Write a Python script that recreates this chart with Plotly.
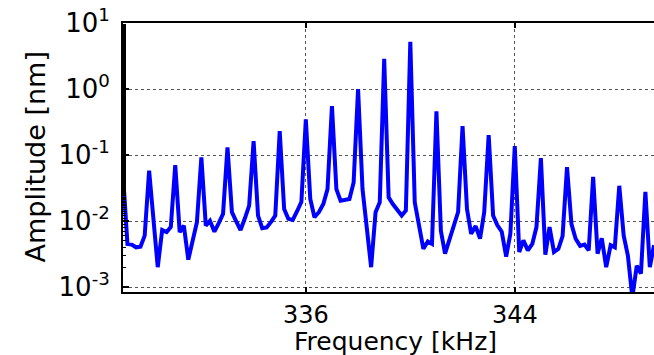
import plotly.graph_objects as go

# Frequency grid [kHz] (sampled every 1/6 kHz)
freq_khz = [
    329.00, 329.17, 329.33, 329.50, 329.67, 329.83,
    330.00, 330.17, 330.33, 330.50, 330.67, 330.83,
    331.00, 331.17, 331.33, 331.50, 331.67, 331.83,
    332.00, 332.17, 332.33, 332.50, 332.67, 332.83,
    333.00, 333.17, 333.33, 333.50, 333.67, 333.83,
    334.00, 334.17, 334.33, 334.50, 334.67, 334.83,
    335.00, 335.17, 335.33, 335.50, 335.67, 335.83,
    336.00, 336.17, 336.33, 336.50, 336.67, 336.83,
    337.00, 337.17, 337.33, 337.50, 337.67, 337.83,
    338.00, 338.17, 338.33, 338.50, 338.67, 338.83,
    339.00, 339.17, 339.33, 339.50, 339.67, 339.83,
    340.00, 340.17, 340.33, 340.50, 340.67, 340.83,
    341.00, 341.17, 341.33, 341.50, 341.67, 341.83,
    342.00, 342.17, 342.33, 342.50, 342.67, 342.83,
    343.00, 343.17, 343.33, 343.50, 343.67, 343.83,
    344.00, 344.17, 344.33, 344.50, 344.67, 344.83,
    345.00, 345.17, 345.33, 345.50, 345.67, 345.83,
    346.00, 346.17, 346.33, 346.50, 346.67, 346.83,
    347.00, 347.17, 347.33, 347.50, 347.67, 347.83,
    348.00, 348.17, 348.33, 348.50, 348.67, 348.83,
    349.00, 349.17, 349.33,
]

# Amplitude [nm]
amplitude_nm = [
    0.051, 0.0045, 0.0044, 0.0040, 0.0041, 0.0060,
    0.058, 0.011, 0.0020, 0.0073, 0.0068, 0.0081,
    0.070, 0.0068, 0.0085, 0.0026, 0.0050, 0.0096,
    0.092, 0.0085, 0.0101, 0.0069, 0.0094, 0.0128,
    0.130, 0.0136, 0.0100, 0.0073, 0.0111, 0.0171,
    0.163, 0.0121, 0.0078, 0.0080, 0.0097, 0.0121,
    0.231, 0.0152, 0.0108, 0.0104, 0.0142, 0.0196,
    0.347, 0.0216, 0.0114, 0.0136, 0.0181, 0.0305,
    0.55, 0.0305, 0.0203, 0.0208, 0.0216, 0.0385,
    1.0, 0.0305, 0.0076, 0.0020, 0.0136, 0.0192,
    2.86, 0.0229, 0.0181, 0.0147, 0.0121, 0.0144,
    5.2, 0.0192, 0.0084, 0.0038, 0.0049, 0.0045,
    0.458, 0.0071, 0.0032, 0.0054, 0.0082, 0.0137,
    0.275, 0.0152, 0.0064, 0.0084, 0.0054, 0.0137,
    0.201, 0.0121, 0.0087, 0.0069, 0.0029, 0.0064,
    0.137, 0.0034, 0.0051, 0.0036, 0.0045, 0.0081,
    0.090, 0.0031, 0.0081, 0.0034, 0.0038, 0.0059,
    0.0655, 0.0090, 0.0054, 0.0042, 0.0044, 0.0036,
    0.0467, 0.0032, 0.0055, 0.0020, 0.0043, 0.0040,
    0.0342, 0.0060, 0.0030, 0.0007, 0.0021, 0.0016,
    0.0277, 0.0020, 0.0043,
]

x_tick_vals = [336, 344]
x_tick_text = ["336", "344"]
y_tick_vals = [1e-3, 1e-2, 1e-1, 1e0, 1e1]
y_tick_text = ["10<sup>-3</sup>", "10<sup>-2</sup>", "10<sup>-1</sup>",
               "10<sup>0</sup>", "10<sup>1</sup>"]

FONT = "DejaVu Sans"

fig = go.Figure()
fig.add_trace(go.Scatter(
    x=freq_khz, y=amplitude_nm, mode="lines",
    line=dict(color="#0000ff", width=4),
    showlegend=False,
))

fig.update_layout(
    width=654, height=355,
    margin=dict(l=123, r=0, t=23, b=63),
    paper_bgcolor="white", plot_bgcolor="white",
    font=dict(family=FONT, size=26, color="black"),
    xaxis=dict(
        range=[329.0, 349.33],
        tickvals=x_tick_vals, ticktext=x_tick_text,
        showline=True, linecolor="black", linewidth=2, mirror="ticks",
        ticks="inside", ticklen=5, tickcolor="black", tickwidth=1.5,
        showgrid=True, gridcolor="#555555", griddash="dot", gridwidth=1.3,
        zeroline=False,
        tickfont=dict(family=FONT, size=24, color="black"),
        ticklabelstandoff=0,
    ),
    yaxis=dict(
        type="log",
        range=[-3.075, 1.0],
        tickvals=y_tick_vals, ticktext=y_tick_text,
        showline=True, linecolor="black", linewidth=2,
        ticks="inside", ticklen=6, tickcolor="black", tickwidth=1.5,
        minor=dict(ticks="inside", ticklen=3, tickcolor="black", tickwidth=1, showgrid=False),
        showgrid=True, gridcolor="#555555", griddash="dot", gridwidth=1.3,
        zeroline=False,
        tickfont=dict(family=FONT, size=26, color="black"),
        ticklabelstandoff=6,
    ),
    annotations=[
        dict(text="Frequency [kHz]", xref="paper", yref="paper",
             x=(395 - 123) / 531, y=0, yshift=-49, xanchor="center", yanchor="middle",
             showarrow=False, font=dict(family=FONT, size=25, color="black")),
        dict(text="Amplitude [nm]", xref="paper", yref="paper",
             x=0, xshift=-88, y=0.5, xanchor="center", yanchor="middle",
             textangle=-90, showarrow=False,
             font=dict(family=FONT, size=27, color="black")),
    ],
)

fig.write_html("out.html")
